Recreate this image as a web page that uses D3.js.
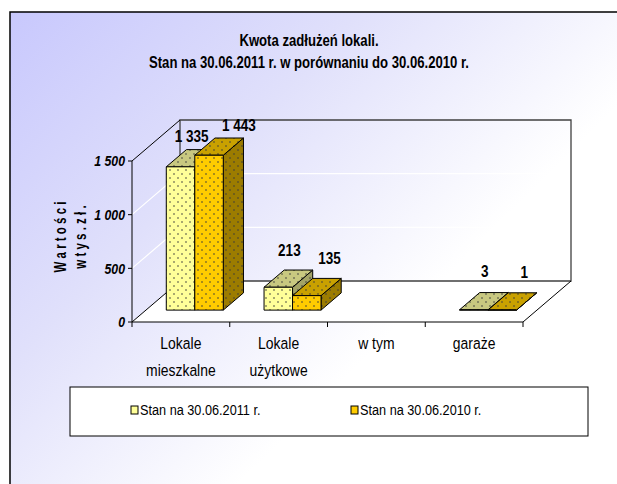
<!DOCTYPE html>
<html lang="pl">
<head>
<meta charset="UTF-8">
<title>Kwota zadłużeń lokali</title>
<script src="https://d3js.org/d3.v7.min.js"></script>
<style>
    body { margin: 0; background: #fff; }
    svg text { font-family: "Liberation Sans", Arial, sans-serif; fill: #000; }
    .title { font-size: 16px; font-weight: bold; }
    .tick-y { font-size: 15px; font-weight: bold; font-style: italic; }
    .cat { font-size: 17px; }
    .val { font-size: 16.5px; font-weight: bold; }
    .axis-title { font-size: 16px; font-weight: bold; }
    .legend { font-size: 15.5px; }
</style>
</head>
<body>
<svg class="chart"></svg>
<script>
    // dane
    const categories = [["Lokale", "mieszkalne"], ["Lokale", "użytkowe"], ["w tym"], ["garaże"]];
    const seriesNames = ["Stan na 30.06.2011 r.", "Stan na 30.06.2010 r."];
    const values2011 = [1335, 213, null, 3];
    const values2010 = [1443, 135, null, 1];
    const yTicks = [0, 500, 1000, 1500];
    const titleLines = ["Kwota zadłużeń lokali.", "Stan na 30.06.2011 r. w porównaniu do 30.06.2010 r."];
    const axisTitle = ["W a r t o ś c i", "w t y s . z ł ."];

    const width = 617, height = 484;
    const depthX = 48, depthY = 41;     // przesunięcie głębi (cała ściana)
    const zFront = 0.29, zBack = 0.71;  // położenie słupków w głębi
    const P = (x, y, z) => [x + depthX * z, y - depthY * z];
    const narrow = 0.82;                // brak Arial Narrow - ściskamy tekst

    const colors = [
        { front: "#ffff99", top: "#c8c880", side: "#a3a366" },
        { front: "#ffcc00", top: "#c9a100", side: "#9c7c00" }
    ];
    const labelShift = [1, 12];

    const fmt = d3.formatLocale({ decimal: ",", thousands: " ", grouping: [3], currency: ["", " zł"] }).format(",d");

    const svg = d3.select(".chart").attr("width", width).attr("height", height);
    const defs = svg.append("defs");

    function addText(parent, x, y, str, cls, anchor, rot, k) {
        return parent.append("text")
            .attr("class", cls)
            .attr("transform", `translate(${x},${y})` + (rot ? ` rotate(${rot})` : "") + ` scale(${k || narrow},1)`)
            .attr("dy", "0.35em")
            .attr("text-anchor", anchor || "middle")
            .text(str);
    }

    const grad = defs.append("linearGradient").attr("id", "bg")
        .attr("gradientUnits", "userSpaceOnUse")
        .attr("x1", 10).attr("y1", 12).attr("x2", 360).attr("y2", 362);
    grad.append("stop").attr("offset", 0).attr("stop-color", "#c8c8fd");
    grad.append("stop").attr("offset", 0.5).attr("stop-color", "#e0e0fb");
    grad.append("stop").attr("offset", 1).attr("stop-color", "#ffffff");

    // wzór kropek
    function dotPattern(id, fill) {
        const p = defs.append("pattern").attr("id", id)
            .attr("patternUnits", "userSpaceOnUse")
            .attr("width", 8).attr("height", 8);
        p.append("rect").attr("width", 8).attr("height", 8).attr("fill", fill);
        p.append("circle").attr("cx", 2).attr("cy", 2).attr("r", 0.8).attr("fill", "#3a3a3a");
        p.append("circle").attr("cx", 6).attr("cy", 6).attr("r", 0.8).attr("fill", "#3a3a3a");
    }
    colors.forEach((c, i) => {
        dotPattern("f" + i, c.front);
        dotPattern("t" + i, c.top);
        dotPattern("s" + i, c.side);
    });

    svg.append("rect").attr("width", width).attr("height", height).attr("fill", "#fff");
    svg.append("rect")
        .attr("x", 10).attr("y", 12).attr("width", 700).attr("height", 600)
        .attr("fill", "url(#bg)").attr("stroke", "#000").attr("stroke-width", 1.5);

    // tytuł
    titleLines.forEach((t, i) => addText(svg, 309, 40 + i * 22, t, "title"));

    const x = d3.scaleBand().domain(d3.range(categories.length)).range([132, 523]);
    const y = d3.scaleLinear().domain([0, 1500]).range([322, 161]);
    const xs = d3.scaleBand().domain([0, 1]).range([0, x.bandwidth()]).paddingInner(0).paddingOuter(0.715);

    const x0 = x.range()[0], x1 = x.range()[1];
    const y0 = y(0), yTop = y(1500);
    const line = d3.line();

    // podłoga
    svg.append("path")
        .attr("d", line([P(x0, y0, 0), P(x1, y0, 0), P(x1, y0, 1), P(x0, y0, 1)]) + "Z")
        .attr("fill", "#fff").attr("stroke", "none");

    // linie siatki
    yTicks.filter(v => v > 0 && v < 1500).forEach(v => {
        svg.append("path")
            .attr("d", line([P(x0, y(v), 0), P(x0, y(v), 1), P(x1, y(v), 1)]))
            .attr("fill", "none").attr("stroke", "#fff").attr("stroke-width", 1.2);
    });

    // ściany
    svg.append("path")
        .attr("d", line([P(x0, y0, 1), P(x1, y0, 1), P(x1, yTop, 1), P(x0, yTop, 1), P(x0, y0, 1)]))
        .attr("fill", "none").attr("stroke", "#404040").attr("stroke-width", 1.3);
    svg.append("path")
        .attr("d", line([P(x0, yTop, 0), P(x0, yTop, 1)]))
        .attr("stroke", "#000").attr("fill", "none");
    svg.append("path")
        .attr("d", line([P(x0, y0, 1), P(x0, y0, 0), P(x1, y0, 0), P(x1, y0, 1)]))
        .attr("stroke", "#000").attr("fill", "none");

    // oś Y
    svg.append("line").attr("x1", x0).attr("x2", x0).attr("y1", yTop).attr("y2", y0)
        .attr("stroke", "#000");
    yTicks.forEach(v => {
        svg.append("line").attr("x1", x0 - 4).attr("x2", x0).attr("y1", y(v)).attr("y2", y(v)).attr("stroke", "#000");
        addText(svg, x0 - 7, y(v), fmt(v), "tick-y", "end");
    });

    // oś X
    d3.range(categories.length + 1).forEach(i => {
        const xx = x0 + i * x.step();
        svg.append("line").attr("x1", xx).attr("x2", xx).attr("y1", y0).attr("y2", y0 + 5).attr("stroke", "#000");
    });
    categories.forEach((lines, i) => {
        lines.forEach((t, j) => addText(svg, x(i) + x.bandwidth() / 2, 343 + j * 27, t, "cat"));
    });

    // tytuł osi Y
    axisTitle.forEach((t, i) => addText(svg, 60 + i * 20, 237, t, "axis-title", "middle", -90, 0.72));

    // słupki
    const bars = [];
    categories.forEach((c, i) => {
        [values2011[i], values2010[i]].forEach((v, s) => {
            if (v != null) bars.push({ i, s, v });
        });
    });

    bars.forEach(d => {
        const bx0 = x(d.i) + xs(d.s), bx1 = bx0 + xs.bandwidth();
        const t = y(d.v), b = y(0);
        const g = svg.append("g").attr("stroke", "#000").attr("stroke-width", 1).attr("stroke-linejoin", "round");
        g.append("path")
            .attr("d", line([P(bx1, b, zFront), P(bx1, b, zBack), P(bx1, t, zBack), P(bx1, t, zFront)]) + "Z")
            .attr("fill", `url(#s${d.s})`);
        g.append("path")
            .attr("d", line([P(bx0, t, zFront), P(bx1, t, zFront), P(bx1, t, zBack), P(bx0, t, zBack)]) + "Z")
            .attr("fill", `url(#t${d.s})`);
        g.append("path")
            .attr("d", line([P(bx0, b, zFront), P(bx1, b, zFront), P(bx1, t, zFront), P(bx0, t, zFront)]) + "Z")
            .attr("fill", `url(#f${d.s})`);
    });

    bars.forEach(d => {
        const h = y(0) - y(d.v);
        const cx = x(d.i) + xs(d.s) + xs.bandwidth() / 2 + depthX * (zFront + zBack) / 2 + labelShift[d.s] + d.s * 0.05 * h;
        const ty = y(d.v) - depthY * zBack - (21 - 0.05 * h);
        addText(svg, cx, ty, fmt(d.v), "val");
    });

    // legenda
    svg.append("rect").attr("x", 70).attr("y", 387).attr("width", 518).attr("height", 49)
        .attr("fill", "#fff").attr("stroke", "#000");
    const legendX = [131, 351];
    seriesNames.forEach((name, s) => {
        svg.append("rect").attr("x", legendX[s]).attr("y", 406).attr("width", 7).attr("height", 8)
            .attr("fill", colors[s].front).attr("stroke", "#000");
        addText(svg, legendX[s] + 9, 410, name, "legend", "start");
    });
</script>
</body>
</html>
